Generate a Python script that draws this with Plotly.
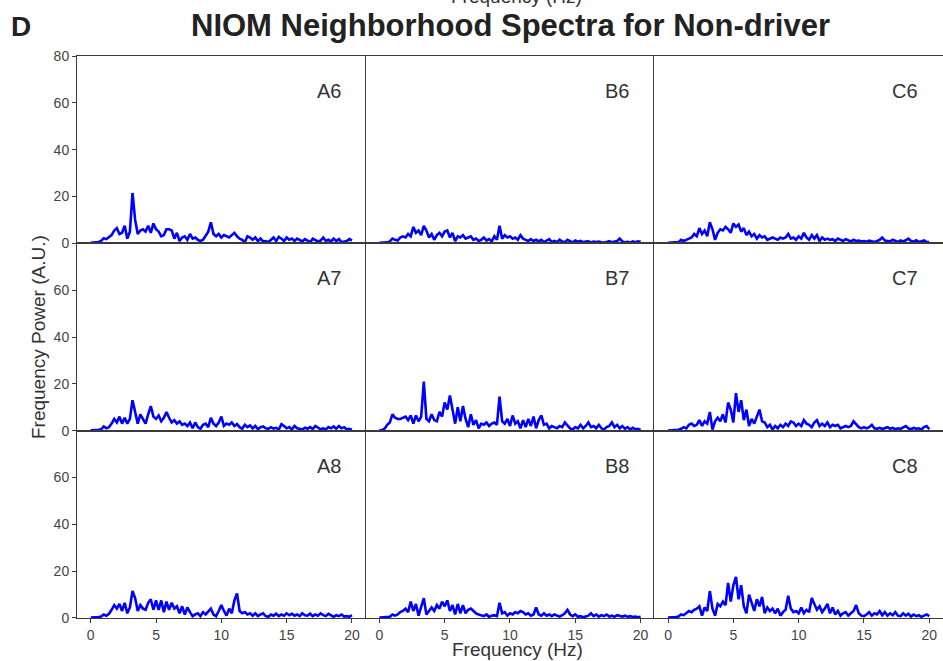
import plotly.graph_objects as go
from plotly.subplots import make_subplots

# Frequency grid (Hz), 0.2 Hz resolution
freq = [round(i * 0.2, 1) for i in range(101)]

panel_labels = ["A6", "B6", "C6", "A7", "B7", "C7", "A8", "B8", "C8"]

A6 = [0.2,0.3,0.4,0.6,1.0,2.2,1.8,2.5,3.5,5.5,
      6.5,4.0,4.5,7.5,2.0,5.0,21.5,10.0,4.0,5.5,
      6.0,5.0,7.5,4.5,8.5,6.0,5.0,3.0,3.5,6.0,
      6.0,5.5,2.0,4.5,1.0,2.5,3.0,1.5,4.0,2.0,
      2.5,1.5,1.0,1.5,3.0,5.0,9.0,4.0,3.0,4.0,
      2.5,3.5,3.0,2.5,3.5,4.5,3.0,2.0,1.5,0.5,
      3.0,2.5,1.5,2.5,1.0,2.0,0.8,1.0,0.5,1.5,
      2.5,1.0,2.8,2.0,1.0,2.5,1.5,2.0,1.0,2.0,
      1.5,0.8,1.8,1.0,0.5,2.0,1.5,0.8,1.2,2.5,
      1.0,1.5,0.8,2.0,1.0,1.8,0.5,0.8,1.0,1.8,
      1.2]

B6 = [0.2,0.2,0.3,0.4,0.8,2.0,1.5,1.2,2.5,3.0,
      2.5,4.0,3.0,7.0,4.5,5.5,3.5,7.5,5.5,2.5,
      4.0,1.5,3.5,4.5,3.0,5.0,5.5,2.5,4.5,1.0,
      3.0,2.5,3.5,2.0,2.5,3.0,1.5,2.0,1.0,1.5,
      2.5,1.2,1.8,0.8,3.0,1.5,7.5,2.0,3.5,2.5,
      3.0,2.0,2.5,1.5,3.5,2.0,1.5,1.0,1.8,1.0,
      1.5,0.8,1.5,0.5,1.2,1.8,0.6,1.0,0.5,1.6,
      0.8,0.5,1.5,0.8,0.4,1.2,0.7,1.0,0.5,0.8,
      0.9,0.4,0.7,0.6,0.8,0.5,0.3,0.6,0.9,0.5,
      0.6,1.0,2.0,0.8,0.4,0.6,0.3,0.8,0.5,0.9,
      0.7]

C6 = [0.2,0.2,0.3,0.3,0.5,1.5,1.0,1.5,2.0,2.5,
      4.0,3.0,6.5,4.0,5.5,3.0,9.0,6.0,1.5,4.5,
      6.0,5.5,7.0,6.0,4.5,8.5,7.0,8.0,5.0,6.5,
      3.5,5.0,3.0,4.0,2.0,3.5,2.5,3.0,1.5,2.0,
      2.5,2.0,1.5,2.5,2.0,2.5,4.0,2.0,2.5,1.5,
      3.0,2.0,4.5,2.5,1.5,3.5,2.0,3.5,1.0,2.5,
      1.5,2.0,1.5,1.8,1.0,2.0,1.5,1.0,1.8,1.2,
      0.8,1.5,1.0,1.2,0.8,1.0,0.7,1.2,0.9,0.6,
      1.0,1.5,2.5,1.2,1.0,0.8,1.5,1.0,0.6,1.2,
      0.8,1.3,2.0,1.0,0.7,1.3,0.6,0.9,1.2,0.5,
      0.6]

A7 = [0.2,0.2,0.3,0.4,0.6,1.8,1.0,1.5,3.0,5.0,
      3.5,6.0,3.0,5.5,3.0,5.0,13.0,8.0,3.0,7.0,
      5.0,3.0,7.0,10.5,6.0,5.0,6.5,4.0,5.5,8.0,
      5.5,3.5,4.5,3.0,4.0,2.5,3.0,2.0,3.5,1.0,
      3.5,1.5,0.8,2.5,3.0,1.5,5.5,3.0,2.0,3.5,
      6.0,2.0,3.0,2.5,3.5,2.0,2.8,1.5,0.8,2.5,
      1.5,2.2,1.0,2.0,0.6,1.5,1.8,1.0,0.8,1.5,
      0.9,1.2,0.5,2.8,2.0,1.0,1.5,0.5,2.0,1.0,
      0.8,0.5,1.3,0.8,1.5,0.7,2.0,1.2,0.6,1.0,
      0.5,1.5,1.0,1.8,0.8,2.0,1.0,1.5,0.6,0.8,
      0.4]

B7 = [0.2,0.3,0.8,2.5,3.5,7.0,5.5,5.0,5.0,5.5,
      6.0,4.5,6.5,3.0,6.5,4.0,6.0,21.0,5.0,4.0,
      7.0,4.5,4.0,8.0,6.0,12.0,9.0,15.0,8.0,3.0,
      10.0,4.0,10.5,5.0,1.5,7.0,2.5,4.5,1.0,3.0,
      2.5,3.5,2.0,3.0,3.5,2.5,14.5,4.0,3.0,5.0,
      2.0,6.5,3.0,4.0,1.0,4.5,1.5,5.0,2.0,6.0,
      1.0,4.5,6.5,2.5,3.0,1.0,2.0,1.5,1.0,2.0,
      1.5,3.5,2.0,1.0,0.5,1.5,1.0,2.5,1.0,2.0,
      3.5,1.5,2.0,1.0,2.5,1.0,0.5,1.5,2.0,3.5,
      1.5,2.5,1.0,2.0,0.8,1.5,0.5,1.2,0.6,0.8,
      0.3]

C7 = [0.1,0.1,0.2,0.2,0.4,0.8,1.5,1.0,2.5,3.0,
      2.0,2.5,4.5,2.0,4.0,3.0,8.0,0.5,4.0,5.5,
      4.0,7.0,3.5,12.0,9.0,3.5,16.0,8.0,13.0,4.5,
      9.0,2.0,5.0,3.0,6.0,9.0,4.0,3.5,1.5,2.5,
      0.5,2.0,1.0,2.5,1.5,3.0,2.0,4.0,3.5,2.0,
      3.0,2.0,4.5,3.0,2.5,1.5,3.5,4.5,2.0,3.0,
      2.0,3.5,1.5,2.5,2.0,2.5,1.0,1.5,2.0,1.5,
      2.0,4.0,2.5,1.5,1.0,1.5,1.0,1.5,2.5,1.0,
      0.8,1.2,0.7,1.0,1.5,0.8,1.2,0.6,1.0,0.8,
      1.5,2.0,1.0,0.6,1.2,0.8,1.0,0.5,1.5,2.0,
      0.6]

A8 = [0.2,0.2,0.3,0.4,0.6,1.5,1.0,1.8,3.5,5.5,
      4.0,6.0,3.0,6.5,2.0,4.5,11.5,8.5,3.0,5.5,
      4.0,3.5,6.5,8.0,3.5,7.5,3.5,7.5,2.5,7.0,
      3.5,6.5,4.0,5.0,2.0,5.0,1.5,4.5,2.5,0.8,
      1.5,2.0,0.8,2.5,1.5,3.0,4.0,1.5,0.8,3.0,
      5.5,3.0,1.0,4.0,2.0,7.5,10.5,3.0,2.0,2.5,
      1.5,2.0,1.0,2.0,0.8,1.5,2.0,0.8,0.5,1.5,
      1.0,1.8,0.8,1.5,1.0,2.0,1.2,1.8,1.0,1.5,
      0.8,2.0,1.2,1.0,1.8,0.8,1.5,1.0,2.0,1.2,
      0.8,1.8,1.0,0.5,1.2,0.8,1.5,0.6,0.8,0.5,
      1.2]

B8 = [0.2,0.2,0.3,0.3,0.5,1.5,1.0,1.5,2.5,3.0,
      4.0,2.5,7.0,3.0,6.0,1.0,5.0,8.5,1.5,3.0,
      4.5,3.0,5.5,4.0,7.0,5.0,7.5,3.0,5.5,1.5,
      6.0,2.0,5.5,2.0,3.5,4.0,3.0,2.0,1.5,1.0,
      0.8,1.5,0.5,1.0,1.2,0.8,6.5,2.0,2.5,1.0,
      2.0,1.5,2.5,2.0,3.0,2.5,1.5,2.0,1.0,1.5,
      4.5,1.5,1.0,2.0,1.0,1.5,0.8,1.5,1.0,0.6,
      1.2,2.0,3.5,1.5,0.8,1.5,0.5,0.8,0.3,0.8,
      1.0,2.0,0.8,1.5,0.6,1.2,0.8,1.5,0.6,1.0,
      0.5,1.2,0.8,0.6,1.0,0.5,0.8,0.4,0.6,0.3,
      0.5]

C8 = [0.2,0.2,0.3,0.4,0.6,1.5,1.2,2.0,3.0,2.5,
      3.5,4.0,5.0,1.0,4.5,3.0,11.5,4.0,1.0,6.0,
      5.0,7.0,5.5,15.0,7.0,14.0,17.5,8.0,14.0,5.0,
      2.0,10.0,6.0,3.0,8.0,5.0,9.0,2.0,4.5,3.0,
      4.0,2.0,4.0,1.0,2.5,3.5,9.5,4.0,2.5,3.0,
      2.0,4.5,2.0,3.5,2.5,8.5,6.0,3.5,5.0,2.5,
      4.0,6.0,2.0,4.5,1.5,3.0,1.0,2.0,2.5,1.0,
      2.0,3.0,5.5,2.0,1.0,0.8,1.5,2.5,1.0,2.0,
      1.5,3.0,1.2,2.5,1.0,2.0,1.2,2.5,1.0,0.8,
      2.0,1.0,1.8,0.6,1.5,0.8,1.2,0.5,1.0,1.5,
      0.8]

series = [A6, B6, C6, A7, B7, C7, A8, B8, C8]

x_ticks = [0, 5, 10, 15, 20]
y_ticks_top = [0, 20, 40, 60, 80]
y_ticks_lower = [0, 20, 40, 60]

FONT = "Liberation Sans, Arial, sans-serif"
LINE_COL = "#3a3a3a"
TEXT_COL = "#333333"

fig = make_subplots(rows=3, cols=3, horizontal_spacing=0, vertical_spacing=0)

for i, (vals, lab) in enumerate(zip(series, panel_labels)):
    r, c = i // 3 + 1, i % 3 + 1
    fig.add_trace(go.Scatter(x=freq, y=vals, mode="lines",
                             line=dict(color="#0000ff", width=2.6),
                             showlegend=False, hoverinfo="skip"), row=r, col=c)
    fig.add_annotation(text=lab, x=19.3, y=65, xanchor="right", yanchor="middle",
                       showarrow=False, font=dict(size=20, color=TEXT_COL, family=FONT),
                       row=r, col=c)
    fig.update_xaxes(range=[-1.05, 21.05], showgrid=False, zeroline=False,
                     showline=True, linecolor=LINE_COL, linewidth=1, mirror=True,
                     tickvals=x_ticks, ticks="outside" if r == 3 else "",
                     ticklen=4, tickcolor=LINE_COL,
                     showticklabels=(r == 3),
                     tickfont=dict(size=14, color="#444444", family=FONT),
                     row=r, col=c)
    fig.update_yaxes(range=[0, 80], showgrid=False, zeroline=False,
                     showline=True, linecolor=LINE_COL, linewidth=1, mirror=False,
                     tickvals=(y_ticks_top if r == 1 else y_ticks_lower),
                     ticks="outside" if c == 1 else "", ticklen=4, tickcolor=LINE_COL,
                     showticklabels=(c == 1),
                     tickfont=dict(size=14, color="#444444", family=FONT),
                     row=r, col=c)

fig.add_annotation(text="<b>NIOM Neighborhood Spectra for Non-driver</b>",
                   xref="paper", yref="paper", x=0.5, y=1.054,
                   xanchor="center", yanchor="middle", showarrow=False,
                   font=dict(size=31, color="#222222", family=FONT))
fig.add_annotation(text="<b>D</b>", xref="paper", yref="paper", x=-0.065, y=1.053,
                   xanchor="center", yanchor="middle", showarrow=False,
                   font=dict(size=28, color="#222222", family=FONT))
fig.add_annotation(text="Frequency (Hz)", xref="paper", yref="paper", x=0.508, y=1.106,
                   xanchor="center", yanchor="middle", showarrow=False,
                   font=dict(size=19, color=TEXT_COL, family=FONT))
fig.add_annotation(text="Frequency (Hz)", xref="paper", yref="paper", x=0.509, y=-0.056,
                   xanchor="center", yanchor="middle", showarrow=False,
                   font=dict(size=19, color=TEXT_COL, family=FONT))
fig.add_annotation(text="Frequency Power (A.U.)", xref="paper", yref="paper", x=-0.045, y=0.5,
                   xanchor="center", yanchor="middle", showarrow=False, textangle=-90,
                   font=dict(size=19, color=TEXT_COL, family=FONT))

fig.update_layout(width=943, height=661, margin=dict(l=77, r=0, t=56, b=43),
                  plot_bgcolor="white", paper_bgcolor="white",
                  font=dict(family=FONT))

fig.write_html("out.html", config={"displayModeBar": False},
               post_script="document.body.style.margin='0';document.body.style.overflow='hidden';")
